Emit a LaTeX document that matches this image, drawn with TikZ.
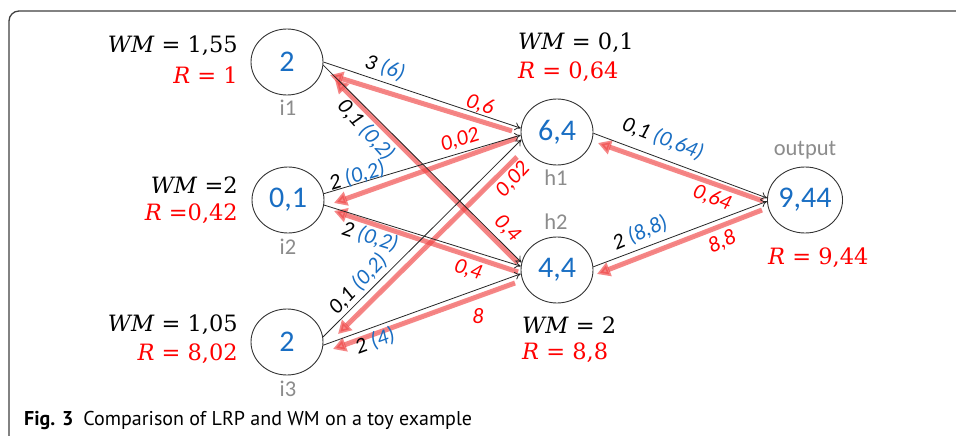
\documentclass[tikz,border=0pt]{standalone}
\usepackage{fontspec}
\setmainfont{Carlito}
\newfontfamily\capfont{PT Sans}
\newfontfamily\mfont{DejaVu Serif}
\usetikzlibrary{shapes.geometric,arrows.meta,calc}
\definecolor{nblue}{RGB}{25,110,195}
\definecolor{lred}{RGB}{240,70,70}
\definecolor{tred}{RGB}{255,0,0}
\definecolor{lgray}{RGB}{140,140,140}
\begin{document}
\begin{tikzpicture}[x=1pt,y=-1pt,
  neuron/.style={draw=black!80, line width=0.9pt, ellipse, minimum width=72pt, minimum height=66pt, inner sep=0pt, text=nblue, font=\fontsize{30}{32}\selectfont},
  tag/.style={text=lgray, font=\fontsize{22.5}{25}\selectfont, inner sep=0pt},
  fwd/.style={draw=black!85, line width=0.8pt, -{To[length=6pt,width=8pt]}},
  bwd/.style={draw=lred, draw opacity=0.65, fill=lred, fill opacity=0.65, line width=5pt, -{Triangle[length=13pt,width=14pt]}},
  elab/.style={font=\fontsize{22}{25}\selectfont\itshape, inner sep=0pt},
  rlab/.style={elab, text=tred},
  mlab/.style={font=\mfont\fontsize{22.5}{26}\selectfont, inner sep=0pt},
]
\useasboundingbox (0,0) rectangle (956,436);
\fill[white] (0,0) rectangle (956,436);
\draw[line width=1.3pt, black!75, rounded corners=10pt] (957,11) -- (9,11) -- (9,437);

% neurons
\node[neuron] (i1) at (287,62) {2};
\node[neuron] (i2) at (288,200) {0,1};
\node[neuron] (i3) at (287,342) {2};
\node[neuron] (h1) at (557,132) {6,4};
\node[neuron] (h2) at (557,270) {4,4};
\node[neuron] (o) at (805,200) {9,44};

% gray tags
\node[tag] (ti1) at (288,108) {i1};
\node[tag] (ti2) at (288,247) {i2};
\node[tag] (ti3) at (288,389) {i3};
\node[tag] (th1) at (556,178) {h1};
\node[tag] (th2) at (556,222) {h2};
\node[tag] (to) at (805,150) {output};

% relevance (backward) arrows
\draw[bwd] ($(h1)+(-45,-1)$) -- ($(i1)+(43,13)$);
\draw[bwd] ($(h1)+(-40,6)$) -- ($(i2)+(46,3)$);
\draw[bwd] ($(h1)+(-40,25)$) -- ($(i3)+(51,-8)$);
\draw[bwd] ($(h2)+(-39,-7)$) -- ($(i1)+(48,18)$);
\draw[bwd] ($(h2)+(-39,2)$) -- ($(i2)+(46,11)$);
\draw[bwd] ($(h2)+(-42,13)$) -- ($(i3)+(46,7)$);
\draw[bwd] ($(o)+(-42,1)$) -- ($(h1)+(41,11)$);
\draw[bwd] ($(o)+(-43,10)$) -- ($(h2)+(40,4)$);

% forward arrows
\draw[fwd] (i1.0) -- (h1.174);
\draw[fwd] (i1.355) -- (h2.168);
\draw[fwd] (i2.10) -- (h1.185);
\draw[fwd] (i2.352) -- (h2.174);
\draw[fwd] (i3.8) -- (h1.192);
\draw[fwd] (i3.355) -- (h2.186);
\draw[fwd] (h1.358) -- (o.177);
\draw[fwd] (h2.5) -- (o.182);

% forward labels
\node[elab, rotate=-18] (l1) at (385,68) {3 \textcolor{nblue}{(6)}};
\node[elab, rotate=-48] (l2) at (366,130) {0,1 \textcolor{nblue}{(0,2)}};
\node[elab, rotate=17] (l3) at (357,176) {2 \textcolor{nblue}{(0,2)}};
\node[elab, rotate=-17] (l4) at (370,237) {2 \textcolor{nblue}{(0,2)}};
\node[elab, rotate=46] (l5) at (358,284) {0,1 \textcolor{nblue}{(0,2)}};
\node[elab, rotate=20] (l6) at (375,341) {2 \textcolor{nblue}{(4)}};
\node[elab, rotate=-21] (l7) at (663,139) {0,1 \textcolor{nblue}{(0,64)}};
\node[elab, rotate=23] (l8) at (640,233) {2 \textcolor{nblue}{(8,8)}};

% relevance labels
\node[rlab, rotate=-18] (r1) at (480,105) {0,6};
\node[rlab, rotate=17] (r2) at (460,140) {0,02};
\node[rlab, rotate=47] (r3) at (513,180) {0,02};
\node[rlab, rotate=-45] (r4) at (507,228) {0,4};
\node[rlab, rotate=-17] (r5) at (468,270) {0,4};
\node[rlab] (r6) at (478,316) {8};
\node[rlab, rotate=-21] (r7) at (712,198) {0,64};
\node[rlab, rotate=23] (r8) at (722,242) {8,8};

% WM / R values
\node[mlab, anchor=east] (wi1) at (238,46) {\textit{WM} = 1,55};
\node[mlab, anchor=east, text=tred] (ri1) at (238,75) {\textit{R} = 1};
\node[mlab, anchor=east] (wi2) at (238,185) {\textit{WM} =2};
\node[mlab, anchor=east, text=tred] (ri2) at (238,214) {\textit{R} =0,42};
\node[mlab, anchor=east] (wi3) at (238,325) {\textit{WM} = 1,05};
\node[mlab, anchor=east, text=tred] (ri3) at (238,354) {\textit{R} = 8,02};
\node[mlab, anchor=west] (wh1) at (518,43) {\textit{WM} = 0,1};
\node[mlab, anchor=west, text=tred] (rh1) at (518,72) {\textit{R} = 0,64};
\node[mlab, anchor=west] (wh2) at (522,325) {\textit{WM} = 2};
\node[mlab, anchor=west, text=tred] (rh2) at (522,353) {\textit{R} = 8,8};
\node[mlab, anchor=west, text=tred] (ro) at (768,258) {\textit{R} = 9,44};

% caption
\node[anchor=west, inner sep=0pt, font=\capfont\fontsize{20}{22}\selectfont] (cap) at (24,420) {\textbf{Fig. 3}\enspace Comparison of LRP and WM on a toy example};
\end{tikzpicture}
\end{document}
